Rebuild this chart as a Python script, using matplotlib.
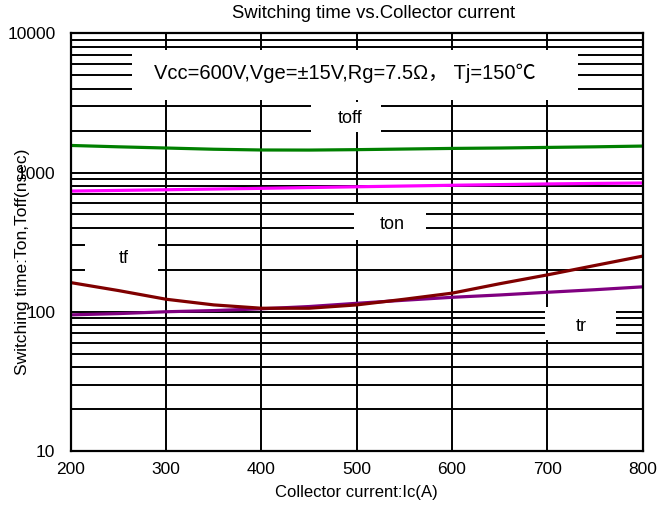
import numpy as np
import matplotlib
matplotlib.use("Agg")
import matplotlib.pyplot as plt
from matplotlib.patches import Rectangle
from matplotlib.ticker import FixedLocator, NullFormatter

plt.rcParams['font.family'] = ['Liberation Sans', 'Noto Sans CJK SC', 'DejaVu Sans']

# Collector current (A)
ic = [200, 250, 300, 350, 400, 450, 500, 550, 600, 650, 700, 750, 800]

# Switching times (nsec)
toff = [1565, 1530, 1500, 1470, 1452, 1450, 1460, 1475, 1490, 1500, 1515, 1530, 1549]
ton = [736, 744, 752, 761, 770, 780, 790, 800, 810, 819, 828, 835, 841]
tf = [162, 142, 123, 112, 106, 106, 112, 123, 136, 159, 184, 215, 251]
tr = [95, 97, 100, 102, 105, 109, 115, 121, 127, 132, 138, 144, 151]

xticks = [200, 300, 400, 500, 600, 700, 800]
yticks = [10, 100, 1000, 10000]

fig = plt.figure(figsize=(6.69, 5.07), dpi=100)
ax = fig.add_axes([0.1057, 0.1105, 0.855, 0.8238])

ax.set_yscale('log')
ax.set_xlim(200, 800)
ax.set_ylim(10, 10000)

ax.set_xticks(xticks)
ax.set_yticks(yticks)
ax.set_yticklabels([str(v) for v in yticks])
minor = [m * 10**d for d in range(1, 4) for m in range(2, 10)]
ax.yaxis.set_minor_locator(FixedLocator(minor))
ax.yaxis.set_minor_formatter(NullFormatter())
ax.tick_params(axis='both', which='both', length=0, labelsize=12.5)
ax.tick_params(axis='y', pad=11)
ax.tick_params(axis='x', pad=8)

ax.grid(True, which='major', axis='both', color='black', lw=1.4, zorder=1)
ax.grid(True, which='minor', axis='y', color='black', lw=1.4, zorder=1)
for s in ax.spines.values():
    s.set_linewidth(1.6)
    s.set_zorder(5)

# curves
ax.plot(ic, toff, color='#008000', lw=2.3, zorder=3)
ax.plot(ic, ton, color='#ff00ff', lw=2.3, zorder=3)
ax.plot(ic, tr, color='#800080', lw=2.3, zorder=3)
ax.plot(ic, tf, color='#800000', lw=2.3, zorder=3)

# white label boxes that blank out the grid (axes fraction: x0, y0, x1, y1)
boxes = [(0.107, 0.840, 0.887, 0.960),
         (0.420, 0.764, 0.542, 0.836),
         (0.495, 0.505, 0.621, 0.591),
         (0.025, 0.415, 0.153, 0.518),
         (0.829, 0.265, 0.953, 0.344)]
for x0, y0, x1, y1 in boxes:
    ax.add_patch(Rectangle((x0, y0), x1 - x0, y1 - y0, transform=ax.transAxes,
                           facecolor='white', edgecolor='none', zorder=2))

ax.text(0.480, 0.905, 'Vcc=600V,Vge=±15V,Rg=7.5Ω， Tj=150℃', fontsize=14.5,
        ha='center', va='center', transform=ax.transAxes, zorder=4)
ax.text(0.489, 0.795, 'toff', fontsize=13, ha='center', va='center',
        transform=ax.transAxes, zorder=4)
ax.text(0.562, 0.543, 'ton', fontsize=13, ha='center', va='center',
        transform=ax.transAxes, zorder=4)
ax.text(0.093, 0.460, 'tf', fontsize=13, ha='center', va='center',
        transform=ax.transAxes, zorder=4)
ax.text(0.892, 0.297, 'tr', fontsize=13, ha='center', va='center',
        transform=ax.transAxes, zorder=4)

fig.text(0.559, 0.974, 'Switching time vs.Collector current', fontsize=13.3,
         ha='center', va='center')
ax.set_xlabel('Collector current:Ic(A)', fontsize=12, labelpad=6)
fig.text(0.034, 0.483, 'Switching time:Ton,Toff(nsec)', fontsize=12.5,
         rotation=90, ha='center', va='center')

fig.savefig('out.png', dpi=100)
